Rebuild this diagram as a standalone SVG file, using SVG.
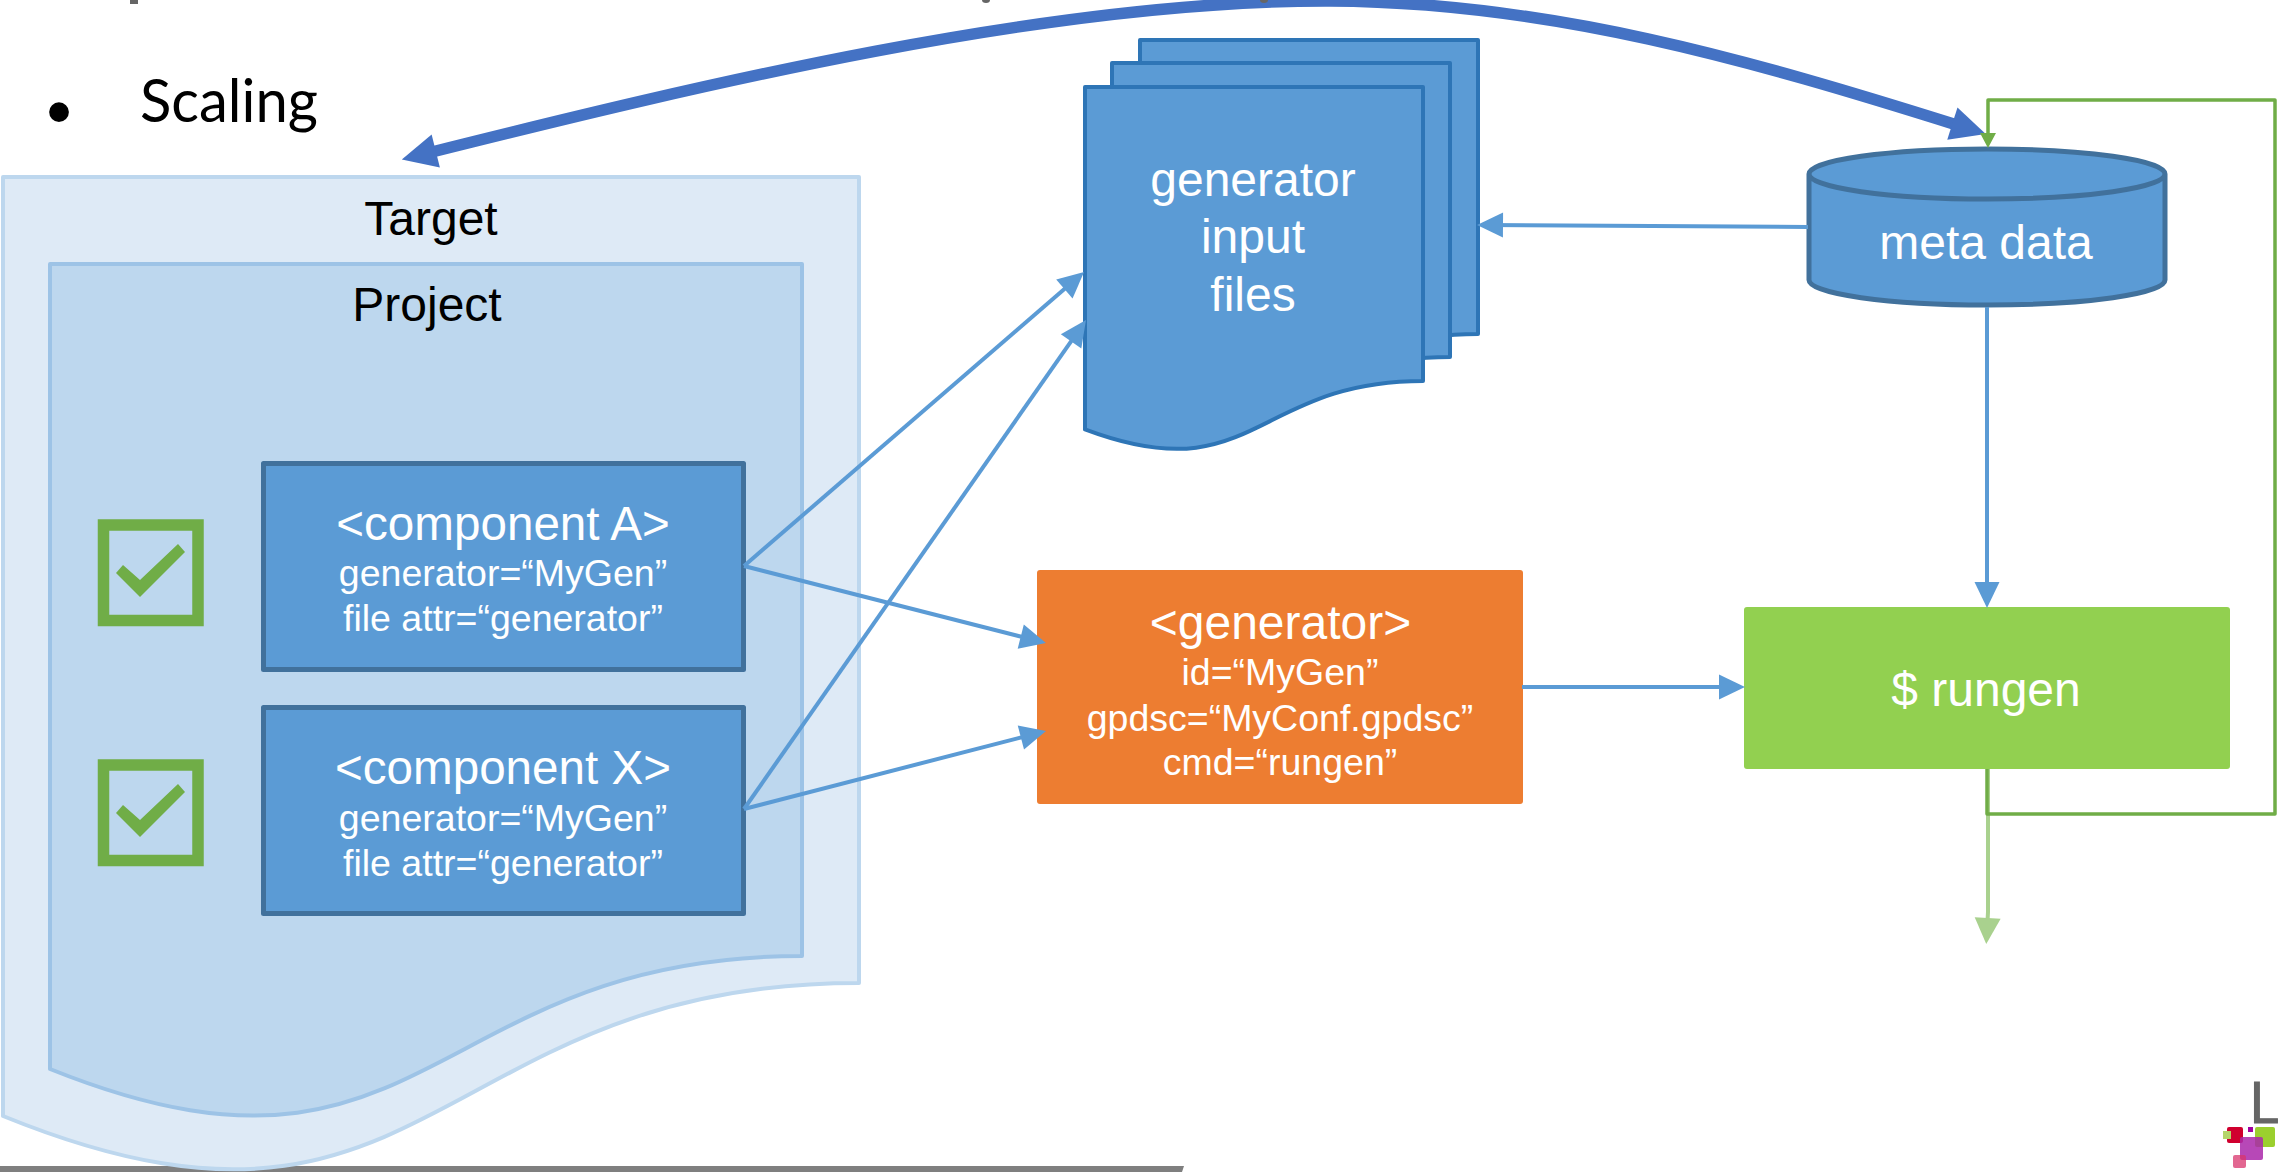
<svg xmlns="http://www.w3.org/2000/svg" width="2280" height="1172" viewBox="0 0 2280 1172">
<style>
text{font-family:"Liberation Sans",Arial,sans-serif;text-anchor:middle}
.w{fill:#fff}
.big{font-size:48px}
.mid{font-size:37.500px}
.cn{font-size:47.600px}
.k{fill:#000;font-size:48px}
.comp{fill:#5b9bd5;stroke:#41719c;stroke-width:5;stroke-linejoin:round}
.doc{fill:#5b9bd5;stroke:#2e75b6;stroke-width:4;stroke-linejoin:round}
.chk{fill:none;stroke:#70ad47;stroke-width:11.5}
.tick{fill:#70ad47}
.ln{fill:none;stroke:#5b9bd5;stroke-width:4;marker-end:url(#ah)}
.gr{fill:none;stroke:#70ad47;stroke-width:3.5;stroke-linejoin:round}
.frag{fill:#666}
</style>
<defs>
<marker id="ah" markerUnits="userSpaceOnUse" markerWidth="30" markerHeight="30" viewBox="0 -15 30 30" refX="18" refY="0" orient="auto" overflow="visible"><path d="M0,-12.5L26,0L0,12.5Z" fill="#5b9bd5"/></marker>
<marker id="ahl" markerUnits="userSpaceOnUse" markerWidth="30" markerHeight="30" viewBox="0 -15 30 30" refX="18" refY="0" orient="auto" overflow="visible"><path d="M0,-13L26,0L0,13Z" fill="#a9d18e"/></marker>
<marker id="ahg" markerUnits="userSpaceOnUse" markerWidth="20" markerHeight="20" viewBox="0 -10 20 20" refX="8" refY="0" orient="auto" overflow="visible"><path d="M0,-8L15,0L0,8Z" fill="#70ad47"/></marker>
<marker id="ahb" markerUnits="userSpaceOnUse" markerWidth="40" markerHeight="40" viewBox="0 -20 40 40" refX="8" refY="0" orient="auto-start-reverse" overflow="visible"><path d="M0,-17L35,0L0,17Z" fill="#4472c4"/></marker>
<path id="docshape" d="M1085,87H1423V381C1254,381 1254,493 1085,429.4Z"/>
<path id="tickshape" d="M116,573L123,565L140,580L178,544L185,552L140,597Z"/>
</defs>
<rect width="2280" height="1172" fill="#fff"/>
<path id="footer-bar" d="M0,1166H1184L1182,1172H0Z" fill="#7f7f7f"/>
<g id="heading">
<text x="59" y="136" style="font-size:73px" fill="#000">•</text>
<text x="140" y="122" style="font-family:Lato,'Open Sans',sans-serif;font-size:60px;text-anchor:start" textLength="178" lengthAdjust="spacingAndGlyphs" fill="#000">Scaling</text>
</g>
<g id="target">
<path d="M3,177H859V983C431,983 431,1290 3,1116Z" fill="#deeaf6" stroke="#bdd7ee" stroke-width="4" stroke-linejoin="round"/>
<text class="k" x="431" y="234.500">Target</text>
</g>
<g id="project">
<path d="M50,264H802V956C426,956 426,1220 50,1069Z" fill="#bdd7ee" stroke="#9dc3e6" stroke-width="4" stroke-linejoin="round"/>
<text class="k" x="427" y="321">Project</text>
</g>
<g id="check-a">
<rect class="chk" x="103.500" y="525" width="94.500" height="95.500"/>
<use href="#tickshape" class="tick"/>
</g>
<g id="component-a">
<rect class="comp" x="263.500" y="463.500" width="480" height="206"/>
<text class="w cn" x="503" y="539.500">&lt;component A&gt;</text>
<text class="w mid" x="503" y="586">generator=“MyGen”</text>
<text class="w mid" x="503" y="631">file attr=“generator”</text>
</g>
<g id="check-x">
<rect class="chk" x="103.500" y="765" width="94.500" height="95.500"/>
<use href="#tickshape" class="tick" transform="translate(0,240)"/>
</g>
<g id="component-x">
<rect class="comp" x="263.500" y="707.500" width="480" height="206"/>
<text class="w cn" x="503" y="783.500">&lt;component X&gt;</text>
<text class="w mid" x="503" y="831">generator=“MyGen”</text>
<text class="w mid" x="503" y="875.500">file attr=“generator”</text>
</g>
<g id="generator-input-files">
<use href="#docshape" class="doc" transform="translate(55,-47)"/>
<use href="#docshape" class="doc" transform="translate(27,-24)"/>
<use href="#docshape" class="doc"/>
<text class="w big" x="1253" y="195.500">generator</text>
<text class="w big" x="1253" y="252.500">input</text>
<text class="w big" x="1253" y="310.500">files</text>
</g>
<g id="meta-data">
<path d="M1809,174V280A178,25 0 0 0 2165,280V174A178,25 0 0 0 1809,174A178,25 0 0 0 2165,174" fill="#5b9bd5" stroke="#41719c" stroke-width="5"/>
<text class="w big" x="1986" y="258.500">meta data</text>
</g>
<g id="generator">
<rect x="1037" y="570" width="486" height="234" rx="3" fill="#ed7d31"/>
<text class="w big" x="1280.500" y="638.500">&lt;generator&gt;</text>
<text class="w mid" x="1280" y="684.500">id=“MyGen”</text>
<text class="w mid" x="1280" y="730.500">gpdsc=“MyConf.gpdsc”</text>
<text class="w mid" x="1280" y="775">cmd=“rungen”</text>
</g>
<g id="rungen">
<rect x="1744" y="607" width="486" height="162" rx="3" fill="#92d050"/>
<text class="w big" x="1986" y="706">$ rungen</text>
</g>
<g id="connectors">
<path class="ln" d="M744,566L1078,277.200"/>
<path class="ln" d="M744,809L1081.400,326.600"/>
<path class="ln" d="M744,566L1038.200,641"/>
<path class="ln" d="M744,809L1038.300,733"/>
<path class="ln" d="M1522,687L1737,687"/>
<path class="ln" d="M1808,227L1485,225"/>
<path class="ln" d="M1987,307V600"/>
<path d="M428,153C700,85 1050,0 1330,1C1550,2 1750,60 1960,126" fill="none" stroke="#4472c4" stroke-width="11.5" marker-start="url(#ahb)" marker-end="url(#ahb)"/>
<path d="M1988,769V912L1986.700,936" fill="none" stroke="#a9d18e" stroke-width="4" marker-end="url(#ahl)"/>
<path class="gr" d="M1987,769V814H2275V100H1988V141" marker-end="url(#ahg)"/>
</g>
<g id="clipped-heading-marks">
<rect class="frag" x="130" y="0" width="8" height="4"/>
<ellipse class="frag" cx="986" cy="0" rx="4" ry="3"/>
<ellipse class="frag" cx="1264" cy="0" rx="4" ry="3"/>
</g>
<g id="logo">
<text x="2249" y="1123" style="font-family:'Open Sans',sans-serif;font-size:57px;text-anchor:start" fill="#666" stroke="#666" stroke-width="1.2">L</text>
<rect x="2227" y="1127" width="16" height="16" rx="2" fill="#d0002f"/>
<rect x="2223" y="1131" width="8" height="8" fill="#b5d56a"/>
<rect x="2248" y="1127" width="5" height="5" fill="#a000a0"/>
<rect x="2255" y="1127" width="20" height="20" rx="2" fill="#9bcf2e"/>
<rect x="2240" y="1137" width="23" height="23" rx="2" fill="#aa28aa" fill-opacity=".85"/>
<rect x="2233" y="1155" width="13" height="13" rx="2" fill="#d8346c" fill-opacity=".75"/>
</g>
</svg>
